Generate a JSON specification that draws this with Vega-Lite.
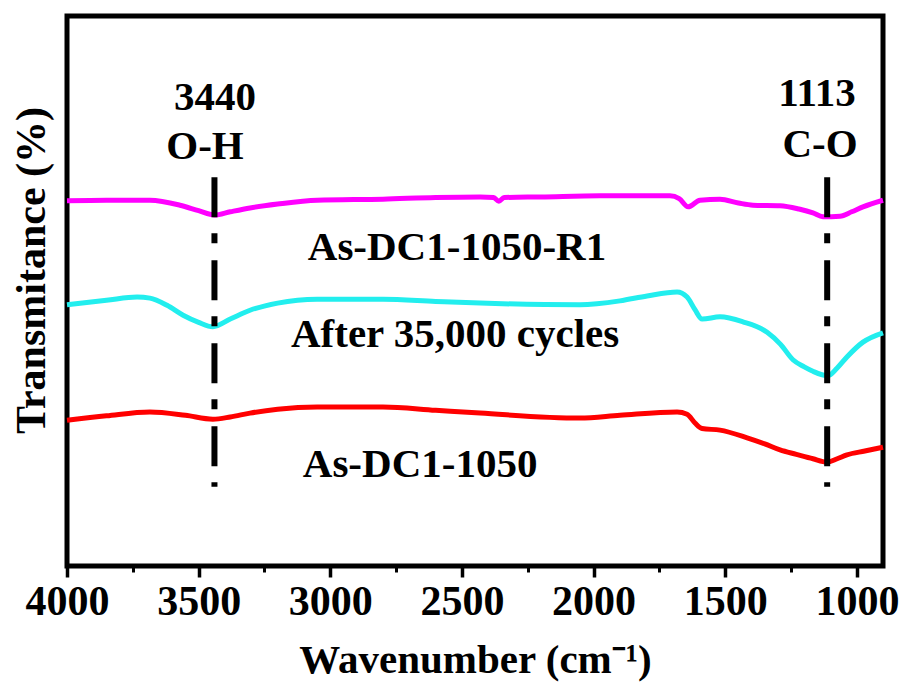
{
  "$schema": "https://vega.github.io/schema/vega-lite/v6.json",
  "width": 816,
  "height": 550,
  "autosize": "none",
  "padding": {"left": 67, "top": 16, "right": 21, "bottom": 120},
  "background": "white",
  "config": {
    "view": {"stroke": "black", "strokeWidth": 5},
    "font": "Liberation Serif"
  },
  "datasets": {
    "spectra": [
      {"series": "As-DC1-1050-R1", "w": 4000, "t": 66.4},
      {"series": "As-DC1-1050-R1", "w": 3850, "t": 66.5},
      {"series": "As-DC1-1050-R1", "w": 3685, "t": 66.5},
      {"series": "As-DC1-1050-R1", "w": 3571, "t": 65.6},
      {"series": "As-DC1-1050-R1", "w": 3500, "t": 64.6},
      {"series": "As-DC1-1050-R1", "w": 3440, "t": 63.8},
      {"series": "As-DC1-1050-R1", "w": 3380, "t": 64.4},
      {"series": "As-DC1-1050-R1", "w": 3305, "t": 65.1},
      {"series": "As-DC1-1050-R1", "w": 3200, "t": 65.8},
      {"series": "As-DC1-1050-R1", "w": 3050, "t": 66.5},
      {"series": "As-DC1-1050-R1", "w": 2800, "t": 66.7},
      {"series": "As-DC1-1050-R1", "w": 2600, "t": 67.0},
      {"series": "As-DC1-1050-R1", "w": 2431, "t": 67.1},
      {"series": "As-DC1-1050-R1", "w": 2380, "t": 67.0},
      {"series": "As-DC1-1050-R1", "w": 2360, "t": 66.3},
      {"series": "As-DC1-1050-R1", "w": 2340, "t": 67.0},
      {"series": "As-DC1-1050-R1", "w": 2200, "t": 67.1},
      {"series": "As-DC1-1050-R1", "w": 1976, "t": 67.3},
      {"series": "As-DC1-1050-R1", "w": 1850, "t": 67.3},
      {"series": "As-DC1-1050-R1", "w": 1710, "t": 67.3},
      {"series": "As-DC1-1050-R1", "w": 1675, "t": 66.8},
      {"series": "As-DC1-1050-R1", "w": 1641, "t": 65.3},
      {"series": "As-DC1-1050-R1", "w": 1596, "t": 66.5},
      {"series": "As-DC1-1050-R1", "w": 1520, "t": 66.7},
      {"series": "As-DC1-1050-R1", "w": 1450, "t": 66.0},
      {"series": "As-DC1-1050-R1", "w": 1395, "t": 65.6},
      {"series": "As-DC1-1050-R1", "w": 1292, "t": 65.5},
      {"series": "As-DC1-1050-R1", "w": 1220, "t": 64.9},
      {"series": "As-DC1-1050-R1", "w": 1167, "t": 64.2},
      {"series": "As-DC1-1050-R1", "w": 1129, "t": 63.5},
      {"series": "As-DC1-1050-R1", "w": 1064, "t": 63.6},
      {"series": "As-DC1-1050-R1", "w": 1020, "t": 64.4},
      {"series": "As-DC1-1050-R1", "w": 977, "t": 65.3},
      {"series": "As-DC1-1050-R1", "w": 901, "t": 66.5},
      {"series": "After 35,000 cycles", "w": 4000, "t": 47.5},
      {"series": "After 35,000 cycles", "w": 3850, "t": 48.3},
      {"series": "After 35,000 cycles", "w": 3734, "t": 48.9},
      {"series": "After 35,000 cycles", "w": 3685, "t": 48.7},
      {"series": "After 35,000 cycles", "w": 3620, "t": 47.4},
      {"series": "After 35,000 cycles", "w": 3559, "t": 45.6},
      {"series": "After 35,000 cycles", "w": 3500, "t": 44.3},
      {"series": "After 35,000 cycles", "w": 3446, "t": 43.5},
      {"series": "After 35,000 cycles", "w": 3380, "t": 44.9},
      {"series": "After 35,000 cycles", "w": 3305, "t": 46.5},
      {"series": "After 35,000 cycles", "w": 3200, "t": 47.8},
      {"series": "After 35,000 cycles", "w": 3050, "t": 48.5},
      {"series": "After 35,000 cycles", "w": 2800, "t": 48.5},
      {"series": "After 35,000 cycles", "w": 2600, "t": 48.1},
      {"series": "After 35,000 cycles", "w": 2431, "t": 47.8},
      {"series": "After 35,000 cycles", "w": 2052, "t": 47.5},
      {"series": "After 35,000 cycles", "w": 1900, "t": 48.2},
      {"series": "After 35,000 cycles", "w": 1797, "t": 49.1},
      {"series": "After 35,000 cycles", "w": 1683, "t": 49.8},
      {"series": "After 35,000 cycles", "w": 1645, "t": 48.9},
      {"series": "After 35,000 cycles", "w": 1615, "t": 46.6},
      {"series": "After 35,000 cycles", "w": 1588, "t": 44.9},
      {"series": "After 35,000 cycles", "w": 1520, "t": 45.3},
      {"series": "After 35,000 cycles", "w": 1433, "t": 44.4},
      {"series": "After 35,000 cycles", "w": 1341, "t": 42.5},
      {"series": "After 35,000 cycles", "w": 1290, "t": 40.3},
      {"series": "After 35,000 cycles", "w": 1243, "t": 37.5},
      {"series": "After 35,000 cycles", "w": 1200, "t": 36.2},
      {"series": "After 35,000 cycles", "w": 1167, "t": 35.4},
      {"series": "After 35,000 cycles", "w": 1110, "t": 34.6},
      {"series": "After 35,000 cycles", "w": 1075, "t": 36.0},
      {"series": "After 35,000 cycles", "w": 1038, "t": 38.0},
      {"series": "After 35,000 cycles", "w": 977, "t": 40.7},
      {"series": "After 35,000 cycles", "w": 901, "t": 42.4},
      {"series": "As-DC1-1050", "w": 4000, "t": 26.5},
      {"series": "As-DC1-1050", "w": 3850, "t": 27.3},
      {"series": "As-DC1-1050", "w": 3685, "t": 28.0},
      {"series": "As-DC1-1050", "w": 3550, "t": 27.4},
      {"series": "As-DC1-1050", "w": 3446, "t": 26.7},
      {"series": "As-DC1-1050", "w": 3380, "t": 27.1},
      {"series": "As-DC1-1050", "w": 3305, "t": 27.8},
      {"series": "As-DC1-1050", "w": 3200, "t": 28.5},
      {"series": "As-DC1-1050", "w": 3050, "t": 28.9},
      {"series": "As-DC1-1050", "w": 2800, "t": 28.9},
      {"series": "As-DC1-1050", "w": 2600, "t": 28.3},
      {"series": "As-DC1-1050", "w": 2431, "t": 27.8},
      {"series": "As-DC1-1050", "w": 2052, "t": 26.9},
      {"series": "As-DC1-1050", "w": 1900, "t": 27.4},
      {"series": "As-DC1-1050", "w": 1683, "t": 28.0},
      {"series": "As-DC1-1050", "w": 1645, "t": 27.6},
      {"series": "As-DC1-1050", "w": 1615, "t": 26.0},
      {"series": "As-DC1-1050", "w": 1588, "t": 25.0},
      {"series": "As-DC1-1050", "w": 1520, "t": 24.7},
      {"series": "As-DC1-1050", "w": 1417, "t": 23.3},
      {"series": "As-DC1-1050", "w": 1350, "t": 22.2},
      {"series": "As-DC1-1050", "w": 1292, "t": 21.1},
      {"series": "As-DC1-1050", "w": 1230, "t": 20.3},
      {"series": "As-DC1-1050", "w": 1167, "t": 19.5},
      {"series": "As-DC1-1050", "w": 1114, "t": 18.9},
      {"series": "As-DC1-1050", "w": 1075, "t": 19.5},
      {"series": "As-DC1-1050", "w": 1038, "t": 20.2},
      {"series": "As-DC1-1050", "w": 970, "t": 20.9},
      {"series": "As-DC1-1050", "w": 901, "t": 21.6}
    ],
    "peaks": [
      {"w": 3440, "top": 70.7, "bottom": 14.4},
      {"w": 1113, "top": 70.7, "bottom": 14.4}
    ],
    "labels": [
      {"text": "3440", "w": 3438, "t": 82.9},
      {"text": "O-H", "w": 3476, "t": 74.0},
      {"text": "1113", "w": 1152, "t": 83.6},
      {"text": "C-O", "w": 1140, "t": 74.4},
      {"text": "As-DC1-1050-R1", "w": 2519, "t": 55.6},
      {"text": "After 35,000 cycles", "w": 2526, "t": 39.8},
      {"text": "As-DC1-1050", "w": 2659, "t": 16.2}
    ]
  },
  "layer": [
    {
      "data": {"name": "spectra"},
      "mark": {"type": "line", "strokeWidth": 5, "strokeJoin": "round", "interpolate": "monotone"},
      "encoding": {
        "x": {
          "field": "w", "type": "quantitative",
          "scale": {"domain": [4000, 901], "nice": false, "zero": false},
          "axis": {
            "orient": "bottom",
            "values": [4000, 3500, 3000, 2500, 2000, 1500, 1000],
            "domain": false, "grid": false,
            "ticks": true, "tickSize": 11, "tickWidth": 3.5, "tickColor": "black",
            "labelFont": "Liberation Serif", "labelFontWeight": "bold", "labelFontSize": 42,
            "labelColor": "black", "labelPadding": 4, "labelFlush": false, "labelOverlap": false,
            "format": "d",
            "title": "Wavenumber (cm⁻¹)",
            "titleFont": "Liberation Serif", "titleFontWeight": "bold", "titleFontSize": 41,
            "titleColor": "black", "titleBaseline": "alphabetic", "titleY": 106
          }
        },
        "y": {
          "field": "t", "type": "quantitative",
          "scale": {"domain": [0, 100], "nice": false, "zero": false},
          "axis": {
            "orient": "left",
            "domain": false, "grid": false, "ticks": false, "labels": false,
            "title": "Transmitance (%)",
            "titleFont": "Liberation Serif", "titleFontWeight": "bold", "titleFontSize": 42,
            "titleColor": "black", "titleAngle": 270, "titleAlign": "center",
            "titleBaseline": "middle", "titleX": -36, "titleY": 254
          }
        },
        "color": {
          "field": "series", "type": "nominal",
          "scale": {
            "domain": ["As-DC1-1050-R1", "After 35,000 cycles", "As-DC1-1050"],
            "range": ["#ff00ff", "#22eeee", "#ff0000"]
          },
          "legend": null
        },
        "detail": {"field": "series"}
      }
    },
    {
      "data": {"name": "peaks"},
      "mark": {"type": "rule", "color": "black", "strokeWidth": 6, "strokeDash": [40, 16, 10, 17]},
      "encoding": {
        "x": {
          "field": "w", "type": "quantitative",
          "axis": {
            "orient": "bottom",
            "values": [3750, 3250, 2750, 2250, 1750, 1250],
            "domain": false, "grid": false, "labels": false, "title": null,
            "ticks": true, "tickSize": 6, "tickWidth": 3, "tickColor": "black"
          }
        },
        "y": {"field": "top", "type": "quantitative"},
        "y2": {"field": "bottom"}
      }
    },
    {
      "data": {"name": "labels"},
      "mark": {"type": "text", "font": "Liberation Serif", "fontWeight": "bold", "fontSize": 41, "color": "black", "align": "center", "baseline": "alphabetic"},
      "encoding": {
        "x": {"field": "w", "type": "quantitative", "axis": null},
        "y": {"field": "t", "type": "quantitative"},
        "text": {"field": "text"}
      }
    }
  ],
  "resolve": {"axis": {"x": "independent"}}
}
